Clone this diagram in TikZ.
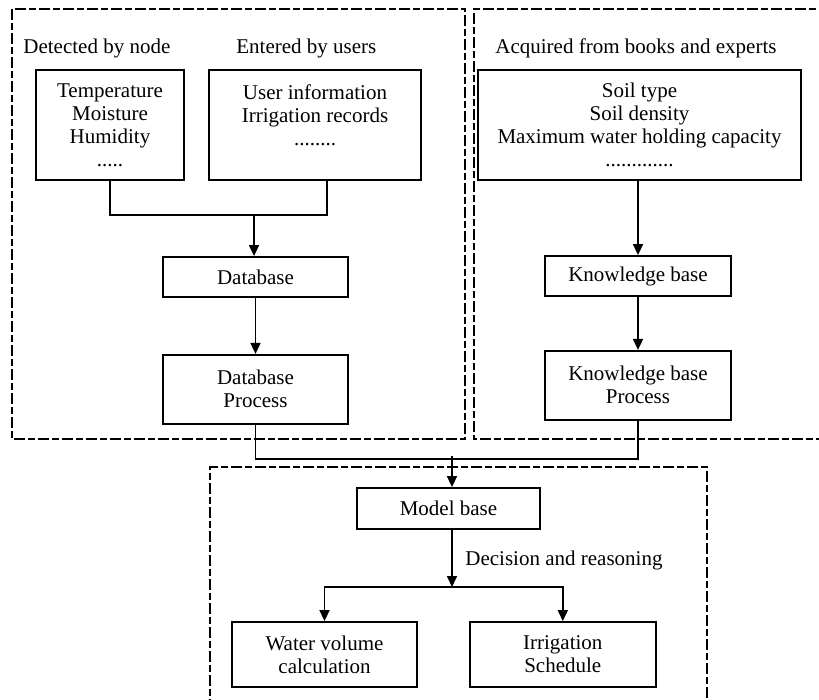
\documentclass[tikz,border=0pt]{standalone}
\usepackage{fontspec}
\setmainfont{Liberation Serif}
\usetikzlibrary{arrows.meta,positioning}

\begin{document}
\begin{tikzpicture}[
    x=0.5pt, y=-0.5pt,
    font=\fontsize{10.5}{11.5}\selectfont,
    box/.style={draw=black, line width=0.9pt, align=center, inner sep=0pt},
    srcbox/.style={box, minimum height=55pt},
    caption/.style={anchor=west, inner sep=0pt},
    group/.style={draw=black, line width=0.7pt,
      dash pattern=on 5.5pt off 1.5pt on 3.5pt off 1.5pt},
    link/.style={line width=0.8pt},
    arrow/.style={link, -{Triangle[length=5.5pt,width=5pt]}}
  ]
    \useasboundingbox (0,0) rectangle (819,700);
    % dashed groups
    \draw[group] (12,9) rectangle (465,439);
    \draw[group] (830,9) -- (474,9) -- (474,439) -- (830,439);
    \draw[group] (210,710) |- (707,467) -- (707,710);
    % sources
    \node[caption] (lblnode) at (23,48) {Detected by node};
    \node[caption] (lblusers) at (236,48) {Entered by users};
    \node[caption] (lblbooks) at (495,48) {Acquired from books and experts};
    \node[srcbox, minimum width=74pt] (sensed) at (110,125)
      {Temperature\\Moisture\\Humidity\\.....};
    \node[srcbox, minimum width=106pt] (userdata) at (315,125)
      {User information\\Irrigation records\\........\\[-5pt]\strut};
    \node[srcbox, minimum width=161.5pt] (soil) at (639.5,125)
      {Soil type\\Soil density\\Maximum water holding capacity\\.............};
    % bases
    \node[box, minimum width=92.5pt, minimum height=20pt] (db) at (255.5,277) {Database};
    \node[box, minimum width=92.5pt, minimum height=34.5pt, below=28pt of db] (dbproc)
      {Database\\Process};
    \node[box, minimum width=93pt, minimum height=20pt] (kb) at (638,276) {Knowledge base};
    \node[box, minimum width=93pt, minimum height=34.5pt, below=26.5pt of kb] (kbproc)
      {Knowledge base\\Process};
    \node[box, minimum width=91.5pt, minimum height=20.5pt] (model) at (448.5,508.5) {Model base};
    \node[box, minimum width=92.5pt, minimum height=32.5pt] (water) at (324.5,654.5)
      {Water volume\\calculation};
    \node[box, minimum width=93pt, minimum height=32.5pt, right=25.5pt of water] (sched)
      {Irrigation\\Schedule};
    \node[caption] (reasonlbl) at (465,560) {Decision and reasoning};
    % connectors
    \coordinate (srcjoin) at (254,214);
    \coordinate (modeljoin) at (452,456);
    \coordinate (split) at (452,587);
    \draw[link] (sensed.south) -- ++(0,34) -| ([xshift=6pt]userdata.south);
    \draw[arrow] (srcjoin) -- (srcjoin |- db.north);
    \draw[arrow] (db) -- (dbproc);
    \draw[arrow] (soil.south -| kb.north) -- (kb.north);
    \draw[arrow] (kb) -- (kbproc);
    \draw[link] (dbproc.south) -- ++(0,34) -| (kbproc.south);
    \draw[arrow] (modeljoin) -- (modeljoin |- model.north);
    \draw[arrow] (model.south -| split) -- (split);
    \draw[arrow] (split) -| (water.north);
    \draw[arrow] (split) -| (sched.north);
  \end{tikzpicture}
\end{document}
